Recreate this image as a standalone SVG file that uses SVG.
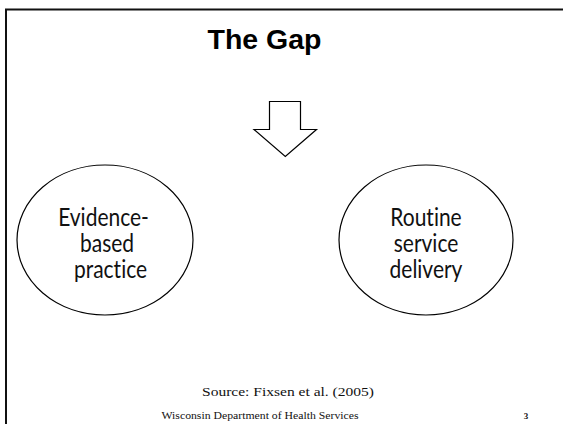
<svg xmlns="http://www.w3.org/2000/svg" width="563" height="424" viewBox="0 0 563 424">
  <style>
    .frame { fill: none; stroke: #111; stroke-width: 2; }
    .shape { fill: #fff; stroke: #000; stroke-width: 1.2; }
    .title { font-family: "Liberation Sans", Arial, sans-serif; font-weight: bold; font-size: 28.5px; fill: #000; text-anchor: middle; }
    .label { font-family: Lato, "Open Sans", sans-serif; font-size: 21px; fill: #111; text-anchor: middle; font-variant-ligatures: none; }
    .source { font-family: "Liberation Serif", "Times New Roman", serif; font-size: 13px; fill: #111; text-anchor: middle; }
    .footer { font-family: "Liberation Serif", "Times New Roman", serif; font-size: 10px; fill: #111; text-anchor: middle; }
    .pagenum { font-family: "Liberation Serif", serif; font-weight: bold; font-size: 9px; fill: #111; text-anchor: middle; }
  </style>
  <rect width="563" height="424" fill="#fff"/>
  <!-- slide frame, open at right and bottom -->
  <path class="frame" d="M6,424 V9.5 H563"/>

  <text class="title" x="264.5" y="48.5">The Gap</text>

  <!-- block arrow pointing down -->
  <g id="arrow">
    <path class="shape" d="M269.5,101.5 H300.5 V129.5 H316.5 L285.3,156.5 L254,129.5 H269.5 Z"/>
  </g>

  <g id="evidence-based-practice">
    <ellipse class="shape" cx="105" cy="240" rx="88" ry="75"/>
    <text class="label" transform="translate(103.5,226) scale(1,1.22)">Evidence-</text>
    <text class="label" transform="translate(107,252) scale(1,1.22)">based</text>
    <text class="label" transform="translate(110.5,278) scale(1,1.22)">practice</text>
  </g>

  <g id="routine-service-delivery">
    <ellipse class="shape" cx="426" cy="240" rx="87" ry="75"/>
    <text class="label" transform="translate(426,226) scale(1,1.22)">Routine</text>
    <text class="label" transform="translate(426,252) scale(1,1.22)">service</text>
    <text class="label" transform="translate(426,278) scale(1,1.22)">delivery</text>
  </g>

  <g id="connectors"></g>

  <text class="source" x="288" y="396" textLength="172" lengthAdjust="spacingAndGlyphs">Source: Fixsen et al. (2005)</text>
  <text class="footer" x="260" y="419" textLength="197" lengthAdjust="spacingAndGlyphs">Wisconsin Department of Health Services</text>
  <text class="pagenum" x="526" y="419">3</text>
</svg>
